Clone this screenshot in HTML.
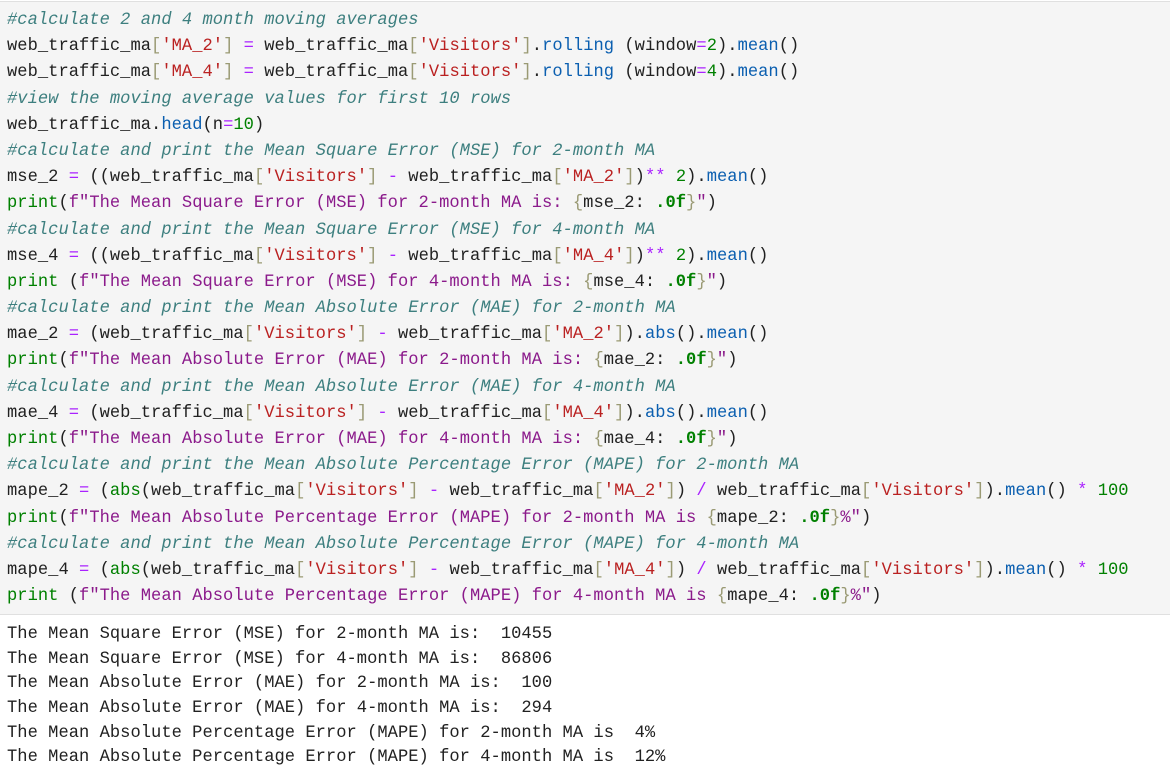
<!DOCTYPE html>
<html><head><meta charset="utf-8"><style>
html,body{margin:0;padding:0;background:#fff;width:1170px;height:768px;overflow:hidden}
.cell{position:absolute;left:0;top:1px;width:1170px;height:612px;background:#f5f5f5;border-top:1px solid #e0e0e0;border-bottom:1px solid #e0e0e0}
pre{margin:0;font-family:"Liberation Mono","DejaVu Sans Mono",monospace;font-size:17.1px;letter-spacing:0.03px;color:#212121;white-space:pre}
.code{position:absolute;left:7px;top:8px;line-height:26.18px}
.out{position:absolute;left:7px;top:623px;line-height:24.65px;color:#212121}
.c{color:#3d7f7f;font-style:italic}
.s{color:#ba2121}
.b{color:#9a9a74}
.o{color:#aa22ff}
.f{color:#0b5fb0}
.n{color:#008000}
.p{color:#008000}
.fs{color:#8b1a8b}
.sp{color:#008000;font-weight:bold}
</style></head><body>
<div class="cell"></div>
<pre class="code"><span class="c">#calculate 2 and 4 month moving averages</span>
web_traffic_ma<span class="b">[</span><span class="s">'MA_2'</span><span class="b">]</span> <span class="o">=</span> web_traffic_ma<span class="b">[</span><span class="s">'Visitors'</span><span class="b">]</span>.<span class="f">rolling</span> (window<span class="o">=</span><span class="n">2</span>).<span class="f">mean</span>()
web_traffic_ma<span class="b">[</span><span class="s">'MA_4'</span><span class="b">]</span> <span class="o">=</span> web_traffic_ma<span class="b">[</span><span class="s">'Visitors'</span><span class="b">]</span>.<span class="f">rolling</span> (window<span class="o">=</span><span class="n">4</span>).<span class="f">mean</span>()
<span class="c">#view the moving average values for first 10 rows</span>
web_traffic_ma.<span class="f">head</span>(n<span class="o">=</span><span class="n">10</span>)
<span class="c">#calculate and print the Mean Square Error (MSE) for 2-month MA</span>
mse_2 <span class="o">=</span> ((web_traffic_ma<span class="b">[</span><span class="s">'Visitors'</span><span class="b">]</span> <span class="o">-</span> web_traffic_ma<span class="b">[</span><span class="s">'MA_2'</span><span class="b">]</span>)<span class="o">**</span> <span class="n">2</span>).<span class="f">mean</span>()
<span class="p">print</span>(<span class="fs">f"The Mean Square Error (MSE) for 2-month MA is: </span><span class="b">{</span>mse_2: <span class="sp">.0f</span><span class="b">}</span><span class="fs">"</span>)
<span class="c">#calculate and print the Mean Square Error (MSE) for 4-month MA</span>
mse_4 <span class="o">=</span> ((web_traffic_ma<span class="b">[</span><span class="s">'Visitors'</span><span class="b">]</span> <span class="o">-</span> web_traffic_ma<span class="b">[</span><span class="s">'MA_4'</span><span class="b">]</span>)<span class="o">**</span> <span class="n">2</span>).<span class="f">mean</span>()
<span class="p">print</span> (<span class="fs">f"The Mean Square Error (MSE) for 4-month MA is: </span><span class="b">{</span>mse_4: <span class="sp">.0f</span><span class="b">}</span><span class="fs">"</span>)
<span class="c">#calculate and print the Mean Absolute Error (MAE) for 2-month MA</span>
mae_2 <span class="o">=</span> (web_traffic_ma<span class="b">[</span><span class="s">'Visitors'</span><span class="b">]</span> <span class="o">-</span> web_traffic_ma<span class="b">[</span><span class="s">'MA_2'</span><span class="b">]</span>).<span class="f">abs</span>().<span class="f">mean</span>()
<span class="p">print</span>(<span class="fs">f"The Mean Absolute Error (MAE) for 2-month MA is: </span><span class="b">{</span>mae_2: <span class="sp">.0f</span><span class="b">}</span><span class="fs">"</span>)
<span class="c">#calculate and print the Mean Absolute Error (MAE) for 4-month MA</span>
mae_4 <span class="o">=</span> (web_traffic_ma<span class="b">[</span><span class="s">'Visitors'</span><span class="b">]</span> <span class="o">-</span> web_traffic_ma<span class="b">[</span><span class="s">'MA_4'</span><span class="b">]</span>).<span class="f">abs</span>().<span class="f">mean</span>()
<span class="p">print</span>(<span class="fs">f"The Mean Absolute Error (MAE) for 4-month MA is: </span><span class="b">{</span>mae_4: <span class="sp">.0f</span><span class="b">}</span><span class="fs">"</span>)
<span class="c">#calculate and print the Mean Absolute Percentage Error (MAPE) for 2-month MA</span>
mape_2 <span class="o">=</span> (<span class="p">abs</span>(web_traffic_ma<span class="b">[</span><span class="s">'Visitors'</span><span class="b">]</span> <span class="o">-</span> web_traffic_ma<span class="b">[</span><span class="s">'MA_2'</span><span class="b">]</span>) <span class="o">/</span> web_traffic_ma<span class="b">[</span><span class="s">'Visitors'</span><span class="b">]</span>).<span class="f">mean</span>() <span class="o">*</span> <span class="n">100</span>
<span class="p">print</span>(<span class="fs">f"The Mean Absolute Percentage Error (MAPE) for 2-month MA is </span><span class="b">{</span>mape_2: <span class="sp">.0f</span><span class="b">}</span><span class="fs">%"</span>)
<span class="c">#calculate and print the Mean Absolute Percentage Error (MAPE) for 4-month MA</span>
mape_4 <span class="o">=</span> (<span class="p">abs</span>(web_traffic_ma<span class="b">[</span><span class="s">'Visitors'</span><span class="b">]</span> <span class="o">-</span> web_traffic_ma<span class="b">[</span><span class="s">'MA_4'</span><span class="b">]</span>) <span class="o">/</span> web_traffic_ma<span class="b">[</span><span class="s">'Visitors'</span><span class="b">]</span>).<span class="f">mean</span>() <span class="o">*</span> <span class="n">100</span>
<span class="p">print</span> (<span class="fs">f"The Mean Absolute Percentage Error (MAPE) for 4-month MA is </span><span class="b">{</span>mape_4: <span class="sp">.0f</span><span class="b">}</span><span class="fs">%"</span>)</pre>
<pre class="out">The Mean Square Error (MSE) for 2-month MA is:  10455
The Mean Square Error (MSE) for 4-month MA is:  86806
The Mean Absolute Error (MAE) for 2-month MA is:  100
The Mean Absolute Error (MAE) for 4-month MA is:  294
The Mean Absolute Percentage Error (MAPE) for 2-month MA is  4%
The Mean Absolute Percentage Error (MAPE) for 4-month MA is  12%</pre>
</body></html>
